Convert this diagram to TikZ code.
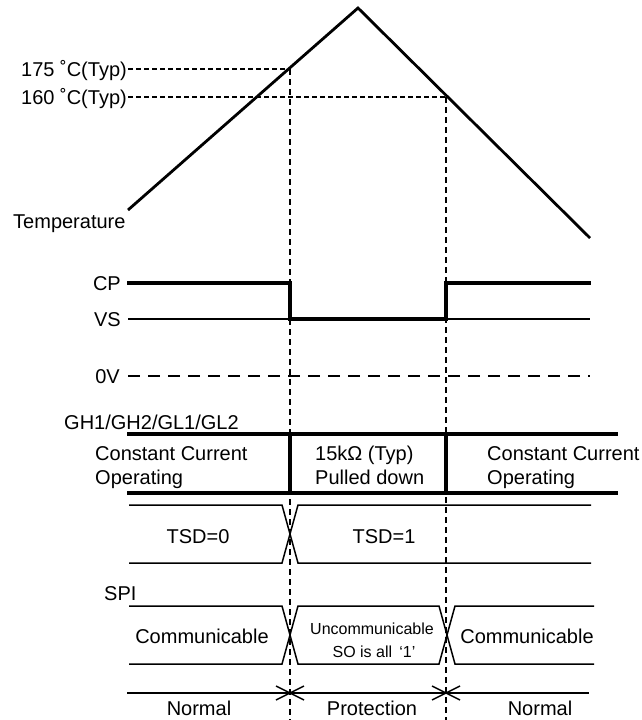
\documentclass[tikz,border=0pt]{standalone}
\usepackage{fontspec}
\setmainfont{Liberation Sans}
\begin{document}
\begin{tikzpicture}[x=1pt,y=-1pt,
  lbl/.style={inner sep=0pt, font=\fontsize{20}{24}\selectfont},
  small/.style={inner sep=0pt, font=\fontsize{16}{22}\selectfont},
  sigthick/.style={line width=3.2pt, line cap=rect},
  sigthin/.style={line width=1.5pt},
  templine/.style={line width=2.8pt},
  guide/.style={line width=1.4pt, dash pattern=on 6pt off 4pt},
  hguide/.style={line width=1.4pt, dash pattern=on 5pt off 3pt},
  zero/.style={line width=1.5pt, dash pattern=on 12pt off 8pt}]
\useasboundingbox (0,0) rectangle (642,720);

% ---------- Temperature ----------
\coordinate (tA) at (128,210);
\coordinate (tPeak) at (358,8);
\coordinate (tB) at (590,238);
\draw[templine] (tA) -- (tPeak) -- (tB);
\node[lbl, anchor=base west] (temp) at (13,228) {Temperature};
\node[lbl, anchor=base east] (t175) at (127,76) {175 ˚C(Typ)};
\node[lbl, anchor=base east] (t160) at (127,104) {160 ˚C(Typ)};
\coordinate (p175) at (290,69);
\coordinate (p160) at (446,97);
\coordinate (b175) at (290,720);
\coordinate (b160) at (446,720);
\draw[hguide] (128,69) -- (p175);
\draw[hguide] (128,97) -- (p160);
\draw[guide] (p175) -- (b175);
\draw[guide] (p160) -- (b160);

% ---------- CP / VS / 0V ----------
\node[lbl, anchor=base east] (cp) at (121,290) {CP};
\node[lbl, anchor=base east] (vs) at (121,326) {VS};
\node[lbl, anchor=base east] (zv) at (120,383) {0V};
\draw[sigthin] (128,319) -- (590,319);
\draw[sigthick] (129,283) -- (290,283) -- (290,319) -- (446,319) -- (446,283) -- (589,283);
\draw[zero] (128,376) -- (590,376);

% ---------- Gate outputs ----------
\node[lbl, anchor=base west] (gh) at (64,429) {GH1/GH2/GL1/GL2};
\draw[sigthick] (129,434) -- (616,434);
\draw[sigthick] (129,493) -- (616,493);
\draw[sigthick] (290,434) -- (290,493);
\draw[sigthick] (446,434) -- (446,493);
\node[lbl, anchor=base west] (cc1) at (95,460) {Constant Current};
\node[lbl, anchor=base west] (op1) at (95,484) {Operating};
\node[lbl, anchor=base west] (pd1) at (315,460) {15k\symbol{"03A9} (Typ)};
\node[lbl, anchor=base west] (pd2) at (315,484) {Pulled down};
\node[lbl, anchor=base west] (cc2) at (487,460) {Constant Current};
\node[lbl, anchor=base west] (op2) at (487,484) {Operating};

% ---------- TSD ----------
\draw[sigthin] (129,505) -- (282,505) -- (298,563) -- (591,563);
\draw[sigthin] (129,563) -- (282,563) -- (298,505) -- (591,505);
\node[lbl, anchor=base] (tsd0) at (198,543) {TSD=0};
\node[lbl, anchor=base] (tsd1) at (384,543) {TSD=1};

% ---------- SPI ----------
\node[lbl, anchor=base west] (spi) at (104,600) {SPI};
\draw[sigthin] (129,606) -- (282,606) -- (298,664) -- (439,664) -- (455,606) -- (594,606);
\draw[sigthin] (129,664) -- (282,664) -- (298,606) -- (439,606) -- (455,664) -- (594,664);
\node[lbl, anchor=base] (com1) at (202,643) {Communicable};
\node[small, anchor=base] (unc1) at (372,634) {Uncommunicable};
\node[small, anchor=base] (unc2) at (374,657) {SO is all\hspace{0.45em}‘1’};
\node[lbl, anchor=base] (com2) at (527,643) {Communicable};

% ---------- Mode ----------
\draw[sigthin] (127,693) -- (589,693);
\foreach \xx/\nm in {290/xa,446/xb}{
  \coordinate (\nm) at (\xx,693);
  \draw[sigthin] ([shift={(-14,-7)}]\nm) -- ([shift={(14,7)}]\nm);
  \draw[sigthin] ([shift={(-14,7)}]\nm) -- ([shift={(14,-7)}]\nm);
}
\node[lbl, anchor=base] (nor1) at (199,715) {Normal};
\node[lbl, anchor=base] (prot) at (372,715) {Protection};
\node[lbl, anchor=base] (nor2) at (540,715) {Normal};
\end{tikzpicture}
\end{document}
